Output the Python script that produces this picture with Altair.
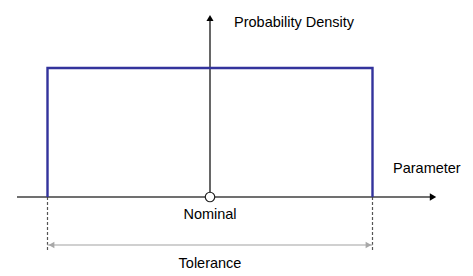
import altair as alt
import pandas as pd

# Uniform distribution over nominal +/- tolerance
nominal = [0.0]
tolerance_limits = [-1.0, 1.0]
density = [1.0]
label_texts = ["Probability Density", "Parameter", "Nominal", "Tolerance"]

W, H = 473, 276
# plot geometry: pixels per unit and where the origin sits
X0, XS = 210.0, 162.5
Y0, YS = 197.0, 129.0


def px_x(p):
    return (p - X0) / XS


def px_y(p):
    return (Y0 - p) / YS


xs = alt.Scale(domain=[px_x(0), px_x(W)], nice=False, zero=False)
ys = alt.Scale(domain=[px_y(H), px_y(0)], nice=False, zero=False)

lo, hi = tolerance_limits
nom = nominal[0]
d = density[0]

# density curve: vertical rise, flat top, vertical fall
pdf = pd.DataFrame({"x": [lo, lo, hi, hi], "y": [0.0, d, d, 0.0], "o": [0, 1, 2, 3]})
pdf_line = alt.Chart(pdf).mark_line(color="#33339c", strokeWidth=2.4, strokeJoin="miter").encode(
    x=alt.X("x:Q", scale=xs, axis=None),
    y=alt.Y("y:Q", scale=ys, axis=None),
    order="o:Q",
)

# horizontal parameter axis
x_axis = alt.Chart(pd.DataFrame({"x": [px_x(17)], "x2": [px_x(432)], "y": [0.0]})).mark_rule(
    color="#404040", strokeWidth=1.5
).encode(x=alt.X("x:Q", scale=xs, axis=None), x2="x2:Q", y=alt.Y("y:Q", scale=ys, axis=None))
x_head = alt.Chart(pd.DataFrame({"x": [px_x(433)], "y": [0.0]})).mark_point(
    shape="triangle-right", filled=True, color="#000000", size=55, opacity=1
).encode(x=alt.X("x:Q", scale=xs, axis=None), y=alt.Y("y:Q", scale=ys, axis=None))

# vertical density axis through the nominal value
y_axis = alt.Chart(pd.DataFrame({"x": [nom], "y": [0.0], "y2": [px_y(20)]})).mark_rule(
    color="#000000", strokeWidth=1.2
).encode(x=alt.X("x:Q", scale=xs, axis=None), y=alt.Y("y:Q", scale=ys, axis=None), y2="y2:Q")
y_head = alt.Chart(pd.DataFrame({"x": [nom], "y": [px_y(18)]})).mark_point(
    shape="triangle-up", filled=True, color="#000000", size=50, opacity=1
).encode(x=alt.X("x:Q", scale=xs, axis=None), y=alt.Y("y:Q", scale=ys, axis=None))

# nominal marker
nom_pt = alt.Chart(pd.DataFrame({"x": [nom], "y": [0.0]})).mark_point(
    shape="circle", filled=True, fill="white", stroke="#222222", strokeWidth=1.2, size=90, opacity=1
).encode(x=alt.X("x:Q", scale=xs, axis=None), y=alt.Y("y:Q", scale=ys, axis=None))

# dashed extension lines at the tolerance limits
ext = pd.DataFrame({"x": tolerance_limits, "y": [0.0, 0.0], "y2": [px_y(250), px_y(250)]})
ext_lines = alt.Chart(ext).mark_rule(color="#555555", strokeWidth=1.2, strokeDash=[3, 2]).encode(
    x=alt.X("x:Q", scale=xs, axis=None), y=alt.Y("y:Q", scale=ys, axis=None), y2="y2:Q"
)

# tolerance dimension arrow
ty = px_y(245)
tol_line = alt.Chart(pd.DataFrame({"x": [lo], "x2": [hi], "y": [ty]})).mark_rule(
    color="#c0c0c0", strokeWidth=1.6
).encode(x=alt.X("x:Q", scale=xs, axis=None), x2="x2:Q", y=alt.Y("y:Q", scale=ys, axis=None))
heads = pd.DataFrame({"x": [lo + 4 / XS, hi - 4 / XS], "y": [ty, ty], "s": ["triangle-left", "triangle-right"]})
tol_heads = alt.Chart(heads).mark_point(filled=True, color="#a8a8a8", size=45, opacity=1).encode(
    x=alt.X("x:Q", scale=xs, axis=None),
    y=alt.Y("y:Q", scale=ys, axis=None),
    shape=alt.Shape("s:N", scale=None, legend=None),
)

# text labels
labels = pd.DataFrame({
    "x": [px_x(234), px_x(393), nom, (lo + hi) / 2],
    "y": [px_y(23), px_y(169), px_y(215), px_y(264)],
    "t": label_texts,
})
text_style = dict(baseline="middle", font="Liberation Sans", fontSize=14.5, color="#000000")
text_left = alt.Chart(labels.iloc[:2]).mark_text(align="left", **text_style).encode(
    x=alt.X("x:Q", scale=xs, axis=None), y=alt.Y("y:Q", scale=ys, axis=None), text="t:N"
)
text_center = alt.Chart(labels.iloc[2:]).mark_text(align="center", **text_style).encode(
    x=alt.X("x:Q", scale=xs, axis=None), y=alt.Y("y:Q", scale=ys, axis=None), text="t:N"
)

chart = alt.layer(
    ext_lines, tol_line, tol_heads, x_axis, x_head, y_axis, y_head, pdf_line, nom_pt, text_left, text_center
).properties(
    width=W, height=H, autosize=alt.AutoSizeParams(type="none"), padding=0, background="white"
).configure_view(stroke=None)

chart.save("out.html", embed_options={"renderer": "svg", "actions": False})
